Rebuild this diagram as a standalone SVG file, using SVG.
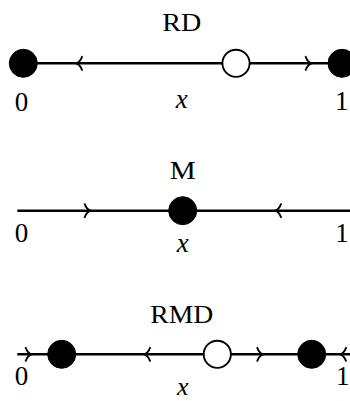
<svg xmlns="http://www.w3.org/2000/svg" xmlns:xlink="http://www.w3.org/1999/xlink" width="350" height="401" viewBox="0 0 350 401">
<style>
.ln{stroke:#000;stroke-width:2.4;fill:none}
.ar{stroke:#000;stroke-width:1.9;fill:none;stroke-linecap:round;stroke-linejoin:round}
.full{fill:#000;stroke:#000;stroke-width:1}
.open{fill:#fff;stroke:#000;stroke-width:1.9}
</style>
<defs>
<path id="ah" class="ar" d="M-6,-6.5 C-4.6,-2.8 -2.2,-0.6 0,0 C-2.2,0.6 -4.6,2.8 -6,6.5"/>
</defs>
<g id="connectors">
<line class="ln" x1="23.3" y1="63.3" x2="350" y2="63.3"/>
<use xlink:href="#ah" transform="translate(76,63.3) scale(-1,1)"/>
<use xlink:href="#ah" transform="translate(311.7,63.3)"/>
<line class="ln" x1="17.3" y1="210.7" x2="350" y2="210.7"/>
<use xlink:href="#ah" transform="translate(90.7,210.7)"/>
<use xlink:href="#ah" transform="translate(275,210.7) scale(-1,1)"/>
<line class="ln" x1="17.3" y1="354.3" x2="350" y2="354.3"/>
<use xlink:href="#ah" transform="translate(31.7,354.3)"/>
<use xlink:href="#ah" transform="translate(144,354.3) scale(-1,1)"/>
<use xlink:href="#ah" transform="translate(263.3,354.3)"/>
<use xlink:href="#ah" transform="translate(340,354.3) scale(-1,1)"/>
</g>
<g id="rd-0"><circle class="full" cx="23.3" cy="63.3" r="14"/></g>
<g id="rd-mid"><circle class="open" cx="236" cy="63.3" r="13.6"/></g>
<g id="rd-1"><circle class="full" cx="342" cy="63.3" r="14"/></g>
<g id="m-mid"><circle class="full" cx="182.7" cy="210.7" r="14"/></g>
<g id="rmd-a"><circle class="full" cx="61.7" cy="354.3" r="14"/></g>
<g id="rmd-mid"><circle class="open" cx="217.3" cy="354.3" r="13.6"/></g>
<g id="rmd-b"><circle class="full" cx="311.7" cy="354.3" r="14"/></g>
<g id="labels" font-family="'Liberation Serif', 'Times New Roman', serif" font-size="26" fill="#000" text-anchor="middle">
<text x="181.7" y="30.7" textLength="39" lengthAdjust="spacingAndGlyphs">RD</text>
<text x="21.5" y="111" font-size="27">0</text>
<text x="181.7" y="108" font-size="27" font-style="italic">x</text>
<text x="341.7" y="110" font-size="27">1</text>
<text x="182.7" y="179" textLength="26" lengthAdjust="spacingAndGlyphs">M</text>
<text x="21.5" y="241.7" font-size="27">0</text>
<text x="182.7" y="252" font-size="27" font-style="italic">x</text>
<text x="342" y="241.7" font-size="27">1</text>
<text x="181.7" y="323.3" textLength="63" lengthAdjust="spacingAndGlyphs">RMD</text>
<text x="21.5" y="384.5" font-size="27">0</text>
<text x="182.7" y="394.5" font-size="26" font-style="italic">x</text>
<text x="342.7" y="385" font-size="27">1</text>
</g>
</svg>
